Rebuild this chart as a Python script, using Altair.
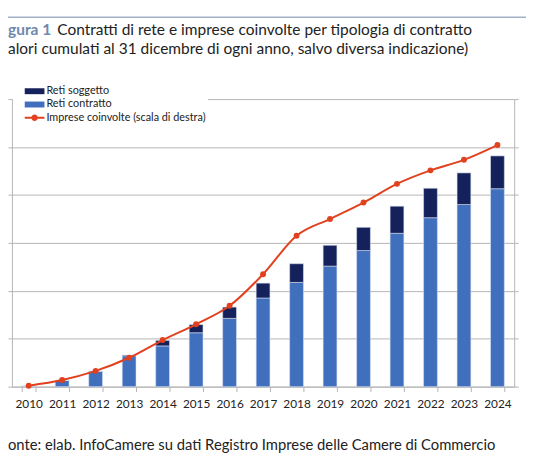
import altair as alt
import pandas as pd

# ---- data ----
YEARS = ["2010", "2011", "2012", "2013", "2014", "2015", "2016", "2017",
         "2018", "2019", "2020", "2021", "2022", "2023", "2024"]
RETI_CONTRATTO = [30, 260, 640, 1290, 1700, 2250, 2850, 3700, 4350, 5030,
                  5680, 6400, 7050, 7600, 8260]
RETI_SOGGETTO = [0, 0, 5, 30, 230, 340, 470, 620, 780, 870, 970, 1130,
                 1230, 1320, 1370]
IMPRESE = [200, 1380, 3290, 6030, 9730, 13020, 16870, 23460, 31480, 34980,
           38410, 42320, 45130, 47330, 50410]

SERIES = ["Reti soggetto", "Reti contratto", "Imprese coinvolte (scala di destra)"]
COLORS = ["#14215a", "#3f6fbd", "#e2411f"]

TITLE_TAG = "gura 1"
TITLE_MAIN = "Contratti di rete e imprese coinvolte per tipologia di contratto"
TITLE_SUB = "alori cumulati al 31 dicembre di ogni anno, salvo diversa indicazione)"
SOURCE = "onte: elab. InfoCamere su dati Registro Imprese delle Camere di Commercio"

LEFT_TICKS = [0, 2000, 4000, 6000, 8000, 10000, 12000]
RIGHT_TICKS = [0, 10000, 20000, 30000, 40000, 50000, 60000]

FONT = "Lato"
GREY = "#b5b5b5"

bars_df = pd.DataFrame({
    "anno": YEARS * 2,
    "serie": [SERIES[1]] * len(YEARS) + [SERIES[0]] * len(YEARS),
    "valore": RETI_CONTRATTO + RETI_SOGGETTO,
    "ordine": [0] * len(YEARS) + [1] * len(YEARS),
})
line_df = pd.DataFrame({"anno": YEARS, "imprese": IMPRESE})
legend_df = pd.DataFrame({"serie": SERIES})

x_enc = alt.X(
    "anno:N", sort=YEARS,
    scale=alt.Scale(paddingInner=0.588, paddingOuter=0.294),
    axis=alt.Axis(title=None, labelAngle=0, tickBand="extent", tickSize=5,
                  labelPadding=7, labelFont=FONT, labelFontSize=12,
                  labelColor="#222222", domainColor=GREY, tickColor=GREY),
)

bars = alt.Chart(bars_df).mark_bar(stroke="#d6deee", strokeWidth=0.6).encode(
    x=x_enc,
    y=alt.Y("valore:Q", stack="zero",
            scale=alt.Scale(domain=[0, 12000], nice=False),
            axis=alt.Axis(title=None, labels=False, values=LEFT_TICKS,
                          tickSize=4, grid=True)),
    color=alt.Color("serie:N",
                    scale=alt.Scale(domain=SERIES[:2], range=COLORS[:2]),
                    legend=None),
    order=alt.Order("ordine:Q"),
)

y_right = alt.Y("imprese:Q", scale=alt.Scale(domain=[0, 60000], nice=False),
                axis=alt.Axis(orient="right", title=None, labels=False,
                              values=RIGHT_TICKS, tickSize=4, grid=False))

line = alt.Chart(line_df).mark_line(
    color=COLORS[2], strokeWidth=2, interpolate="monotone"
).encode(x=x_enc, y=y_right)
pts = alt.Chart(line_df).mark_point(
    filled=True, color=COLORS[2], size=36, opacity=1
).encode(x=x_enc, y=y_right)
right = alt.layer(line, pts)

RECT = "M-1.43,-0.43H1.43V0.43H-1.43Z"
LINEDOT = ("M-1.43,-0.15H1.43V0.15H-1.43Z "
           "M-0.47,0A0.47,0.47 0 1,1 0.47,0A0.47,0.47 0 1,1 -0.47,0Z")
SHAPES = [RECT, RECT, LINEDOT]

leg_props = dict(orient="none", legendX=1, legendY=-17, title=None,
                 fillColor="white", padding=2, symbolOffset=13,
                 symbolSize=196, symbolStrokeWidth=0, labelOffset=5,
                 labelFont=FONT, labelFontSize=11, labelColor="#222222",
                 rowPadding=1.5, labelLimit=400)

leg = alt.Chart(legend_df).transform_filter("false").mark_point(
    filled=True, opacity=1
).encode(
    color=alt.Color("serie:N", scale=alt.Scale(domain=SERIES, range=COLORS),
                    legend=alt.Legend(**leg_props)),
    shape=alt.Shape("serie:N", scale=alt.Scale(domain=SERIES, range=SHAPES),
                    legend=alt.Legend(**leg_props)),
)


def txt(s, x, y, size, color, weight="normal"):
    return alt.Chart(pd.DataFrame({"t": [s]})).mark_text(
        align="left", baseline="alphabetic", font=FONT, fontSize=size,
        color=color, fontWeight=weight
    ).encode(x=alt.value(x), y=alt.value(y), text="t:N")


top_rule = alt.Chart(pd.DataFrame({"a": [0]})).mark_rule(
    color="#a3b2c8", strokeWidth=1.5
).encode(x=alt.value(-4), x2=alt.value(522), y=alt.value(-83))

texts = [
    txt(TITLE_TAG, -4, -65, 15.7, "#6f88ad", "bold"),
    txt(TITLE_MAIN, 46, -65, 15.7, "#222222"),
    txt(TITLE_SUB, -4, -46, 15.7, "#222222"),
    txt(SOURCE, -4, 356, 15, "#222222"),
]

chart = alt.layer(bars, right, leg, top_rule, *texts).resolve_scale(
    y="independent", color="independent", shape="independent"
).properties(
    width=510, height=292,
    padding={"left": 4, "top": 89, "right": 12, "bottom": 73},
    autosize=alt.AutoSizeParams(type="none"),
    background="white",
).configure_view(
    stroke="transparent"
).configure_axis(
    domainColor=GREY, tickColor=GREY, gridColor=GREY, domainWidth=1,
    gridWidth=1,
)

chart.save("out.html", embed_options={"renderer": "svg", "actions": False})
